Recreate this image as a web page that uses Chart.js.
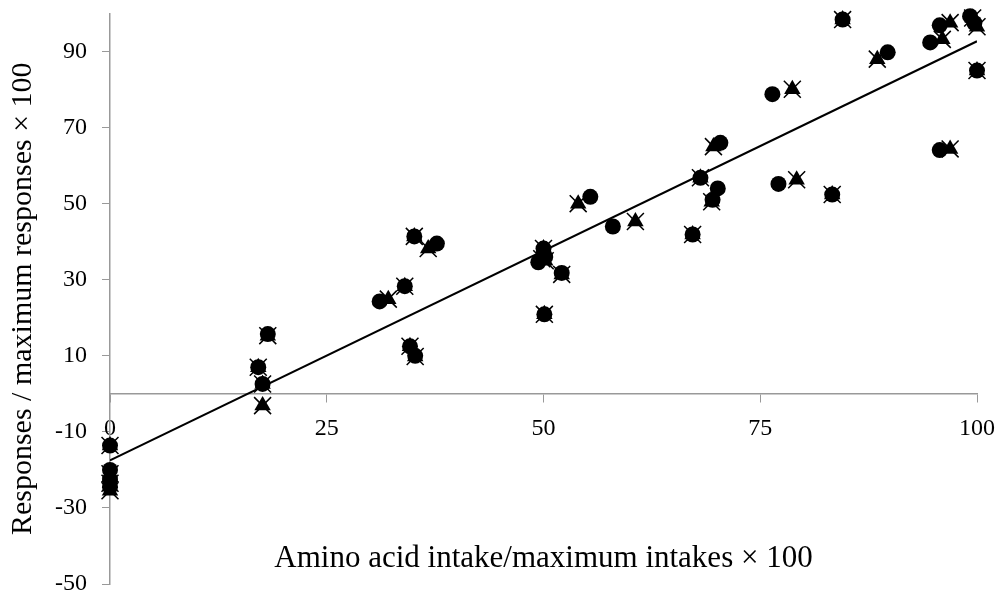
<!DOCTYPE html>
<html>
<head>
<meta charset="utf-8">
<script src="https://cdn.jsdelivr.net/npm/chart.js@4"></script>
<style>
  html, body { margin: 0; padding: 0; background: #fff; }
  #wrap { width: 1004px; height: 599px; }
</style>
</head>
<body>
<div id="wrap"><canvas id="chart" width="1004" height="599"></canvas></div>
<script>
const xTicks = [0, 25, 50, 75, 100];
const yTicks = [-50, -30, -10, 10, 30, 50, 70, 90];

const circleX = [0, 0, 0, 0, 17.1, 17.6, 18.2, 31.1, 34.0, 35.1, 37.7, 34.6, 35.2, 55.4, 58.0, 50.0, 49.4, 50.2, 52.1, 50.1, 70.4, 68.1, 70.1, 69.5, 67.2, 77.1, 83.3, 76.4, 84.5, 89.7, 94.6, 95.7, 99.2, 99.7, 100, 95.7];
const circleY = [-13.6, -20, -22.5, -24.5, 7, 2.6, 15.7, 24.3, 28.3, 41.4, 39.5, 12.5, 10, 51.8, 44, 38.2, 34.6, 36, 31.8, 20.9, 66, 56.8, 54, 51, 41.9, 55.2, 52.4, 78.8, 98.4, 89.8, 92.4, 96.9, 99.3, 97.5, 85, 64.1];

const triX = [0, 0, 0, 0, 17.1, 17.6, 17.6, 18.2, 32.1, 34.0, 35.1, 36.7, 34.6, 35.2, 54.0, 60.6, 50.0, 50.2, 49.8, 52.1, 50.1, 69.6, 68.1, 69.4, 67.2, 79.2, 83.3, 78.7, 84.5, 88.5, 96.0, 96.9, 99.5, 100, 100, 96.9];
const triY = [-13.6, -21, -23.5, -25.5, 7, 2.6, -3.1, 15.3, 24.9, 28.3, 41.4, 38.2, 12.5, 9.8, 50, 45.3, 38.2, 35, 35.5, 31.4, 20.9, 65, 56.8, 50.5, 41.9, 56.3, 52.4, 80.1, 98.4, 88, 93.2, 97.6, 98.8, 96.5, 85, 64.4];

const fitX = [0, 100];
const fitY = [-17.5, 92.7];

const pts = (xs, ys) => xs.map((x, i) => ({ x: x, y: ys[i] }));

const serif = 'Liberation Serif';
const axisGrey = '#999999';

new Chart(document.getElementById('chart').getContext('2d'), {
    type: 'scatter',
    data: {
        datasets: [
            {
                type: 'line',
                data: pts(fitX, fitY),
                borderColor: '#000',
                borderWidth: 2,
                pointRadius: 0,
                fill: false,
                order: 4
            },
            {
                data: pts(circleX, circleY),
                pointStyle: 'circle',
                pointRadius: 8,
                backgroundColor: '#000',
                borderColor: '#000',
                borderWidth: 0,
                clip: false,
                order: 3
            },
            {
                data: pts(triX, triY),
                pointStyle: 'triangle',
                pointRadius: 9.5,
                backgroundColor: '#000',
                borderColor: '#000',
                borderWidth: 0,
                clip: false,
                order: 2
            },
            {
                data: pts(triX, triY),
                pointStyle: 'crossRot',
                pointRadius: 12,
                backgroundColor: '#000',
                borderColor: '#000',
                borderWidth: 1.5,
                clip: false,
                order: 1
            }
        ]
    },
    options: {
        responsive: false,
        animation: false,
        layout: { padding: { top: 12, right: 27, bottom: 15, left: 0 } },
        plugins: {
            legend: { display: false },
            tooltip: { enabled: false }
        },
        scales: {
            x: {
                type: 'linear',
                position: { y: 0 },
                min: 0,
                max: 100,
                afterBuildTicks: (s) => { s.ticks = xTicks.map(v => ({ value: v })); },
                afterFit: (s) => { s.paddingLeft = 0; s.paddingRight = 0; },
                ticks: {
                    autoSkip: false,
                    maxRotation: 0,
                    padding: 12,
                    color: '#000',
                    font: { family: serif, size: 24 }
                },
                grid: {
                    drawOnChartArea: false,
                    drawTicks: true,
                    tickLength: 8,
                    color: axisGrey
                },
                border: { display: true, color: axisGrey, width: 1.5 },
                title: {
                    display: true,
                    text: 'Amino acid intake/maximum intakes × 100',
                    color: '#000',
                    font: { family: serif, size: 31 },
                    padding: { top: 86, bottom: 0 }
                }
            },
            y: {
                type: 'linear',
                min: -50,
                max: 100,
                afterBuildTicks: (s) => { s.ticks = yTicks.map(v => ({ value: v })); },
                afterFit: (s) => { s.width = 110; s.paddingTop = 0; s.paddingBottom = 0; },
                ticks: {
                    autoSkip: false,
                    padding: 15,
                    color: '#000',
                    font: { family: serif, size: 24 }
                },
                grid: {
                    drawOnChartArea: false,
                    drawTicks: true,
                    tickLength: 8,
                    color: axisGrey
                },
                border: { display: true, color: axisGrey, width: 1.5 },
                title: {
                    display: true,
                    text: 'Responses / maximum responses × 100',
                    color: '#000',
                    font: { family: serif, size: 30 },
                    padding: { top: 5, bottom: 0 }
                }
            }
        }
    }
});
</script>
</body>
</html>
